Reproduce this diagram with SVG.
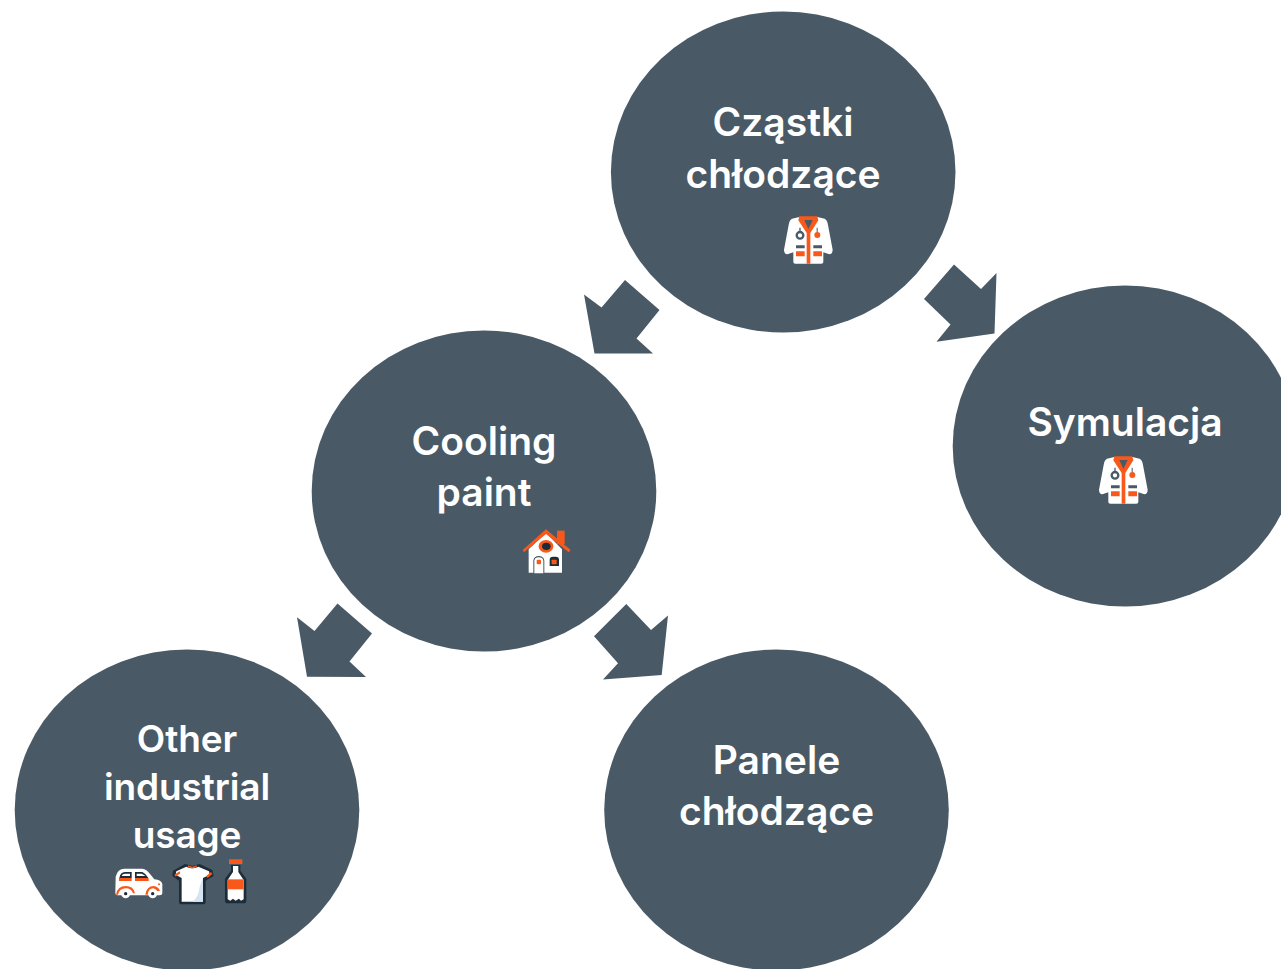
<svg xmlns="http://www.w3.org/2000/svg" width="1281" height="969" viewBox="0 0 1281 969">
<style>
.c{fill:#495a66}
.t{font-family:"Inter","Lato","Liberation Sans",sans-serif;font-weight:600;fill:#fff;text-anchor:middle;font-size:39px;letter-spacing:0}
.s{font-size:37px;letter-spacing:-.1px}
.w{fill:#fff}.o{fill:#f8591a}.d{fill:#495a66}.k{fill:#1d2c39}
</style>
<defs>
<g id="coat" transform="scale(.3333)">
<path class="w" d="M88 36L66 41Q58 45 56 60L42 134Q42 146 52 148L70 142V171Q70 176 76 176H154Q160 176 160 171V142L178 148Q188 146 188 134L174 60Q172 45 164 41L142 36Z"/>
<path class="o" d="M88 34H142L145 46L121 84V176H110V84L85 46Z"/>
<path class="d" d="M103 45H128L115 72Z"/>
<circle cx="90" cy="91" r="10" fill="none" stroke="#495a66" stroke-width="7"/>
<path class="d" d="M88 68h4v14h-4z"/>
<circle class="o" cx="142" cy="90" r="9"/>
<path class="d" d="M140 68h3v14h-3zM78 121h26v9H78zM130 121h26v9h-26z"/>
<path class="o" d="M78 139h26v15H78zM130 139h26v15h-26z"/>
</g>
<g id="house" transform="scale(.3333)">
<path class="o" d="M141 32H164V72H141z"/>
<path class="w" d="M108 38L56 88V158H156V88Z"/>
<path class="o" d="M108 28L38 90L42 97L108 42L176 97L182 90Z"/>
<ellipse class="o" cx="108" cy="79" rx="22" ry="19"/>
<ellipse class="k" cx="109" cy="79" rx="13" ry="11"/>
<path class="d" d="M70 160V122Q72 108 86 108Q101 108 103 122V160Z"/>
<path class="w" d="M73 160V122Q75 112 86 112Q98 112 100 122V160Z"/>
<rect class="o" x="80" y="119" width="13" height="14" rx="3"/>
<path class="k" d="M119 138V120Q119 110 129 110H137Q147 110 147 120V138Z"/>
<rect class="o" x="125" y="119" width="15" height="14" rx="2"/>
</g>
<g id="car" transform="scale(.3333)">
<path class="w" d="M32 80Q38 56 58 56H112Q124 56 137 74L148 88Q170 90 172 102V130Q172 136 164 136H40Q31 136 31 128Z"/>
<path class="k" d="M43 84Q46 66 60 66H80V84Z"/>
<path class="w" d="M50 78Q52 71 60 71H75V78Z"/>
<path class="k" d="M90 66H112Q122 70 130 84H90Z"/>
<path class="w" d="M95 71H110Q116 73 121 78H95Z"/>
<path class="o" d="M42 84H80V93H42zM90 84H131V93H90z"/>
<path class="o" d="M33 134Q37 108 62 108Q86 108 90 130L84 130Q79 115 62 115Q44 115 39 134Z"/>
<path class="o" d="M121 134Q125 108 146 108Q160 110 165 122L158 124Q150 115 144 115Q131 115 128 134Z"/>
<circle class="w" cx="62" cy="132" r="13"/><circle class="k" cx="62" cy="131" r="5"/>
<circle class="w" cx="143" cy="132" r="13"/><circle class="k" cx="143" cy="131" r="5"/>
<circle class="o" cx="162" cy="103" r="3"/>
</g>
<g id="shirt" transform="scale(.3333)">
<path class="k" d="M240 42L262 48L284 42L322 60L326 78L302 92V156Q302 163 294 163H230Q222 163 222 156V92L202 78L204 62Z"/>
<path class="w" d="M244 50Q262 60 280 50L312 64L314 74L294 84V155H230V84L212 74L214 64Z"/>
<path fill="#d5e3f3" d="M262 155Q282 140 284 110L294 84V155Z"/>
<path class="o" d="M250 46Q262 54 274 46L276 50Q262 60 248 50ZM208 74L224 64L226 70L212 80ZM304 78L318 66L322 72L308 84Z"/>
</g>
<g id="bottle" transform="scale(.3333)">
<path class="o" d="M372 28H412V42H372z"/>
<path class="k" d="M378 45H406V62L424 86V152Q424 160 416 160H368Q360 160 360 152V86L378 62Z"/>
<path class="w" d="M384 48H400V66L416 90V148L408 152L402 146L392 152L384 146L376 152L368 148V90L384 66Z"/>
<path class="o" d="M368 88H416V118H368z"/>
</g>
</defs>
<g id="connectors" class="c">
<path d="M625 280L659.500 310L636.500 338.500L653 353.500L594.500 353.500L584 294.500L601.500 307.500Z"/>
<path d="M954 264.500L981 289L996.500 273L994.500 333.500L936.500 341.800L950.500 324.500L924 299Z"/>
<path d="M337.500 603.500L372 633.500L349.500 661.500L366 677L307 676.800L297 617.300L314.500 631Z"/>
<path d="M626.300 604L651 630L668 615.500L661.700 675L603 679.500L618 663.300L594 636.300Z"/>
</g>
<g id="node-czastki">
<ellipse class="c" cx="783.200" cy="172" rx="172.300" ry="160.500"/>
<text class="t" x="783" y="136">Cząstki</text>
<text class="t" x="783" y="188">chłodzące</text>
<use href="#coat" transform="translate(770 205)"/>
</g>
<g id="node-symulacja">
<ellipse class="c" cx="1125" cy="446" rx="172.300" ry="160.500"/>
<text class="t" x="1125" y="436">Symulacja</text>
<use href="#coat" transform="translate(1085 445)"/>
</g>
<g id="node-cooling">
<ellipse class="c" cx="484" cy="491" rx="172.300" ry="160.500"/>
<text class="t" x="484" y="455">Cooling</text>
<text class="t" x="484" y="506">paint</text>
<use href="#house" transform="translate(510 520)"/>
</g>
<g id="node-other">
<ellipse class="c" cx="187" cy="810" rx="172.300" ry="160.500"/>
<text class="t s" x="187" y="752">Other</text>
<text class="t s" x="187" y="800">industrial</text>
<text class="t s" x="187" y="848">usage</text>
<use href="#car" transform="translate(105 850)"/>
<use href="#shirt" transform="translate(105 850)"/>
<use href="#bottle" transform="translate(105 850)"/>
</g>
<g id="node-panele">
<ellipse class="c" cx="776.500" cy="810" rx="172.300" ry="160.500"/>
<text class="t" x="776.500" y="774">Panele</text>
<text class="t" x="776.500" y="825">chłodzące</text>
</g>
</svg>
